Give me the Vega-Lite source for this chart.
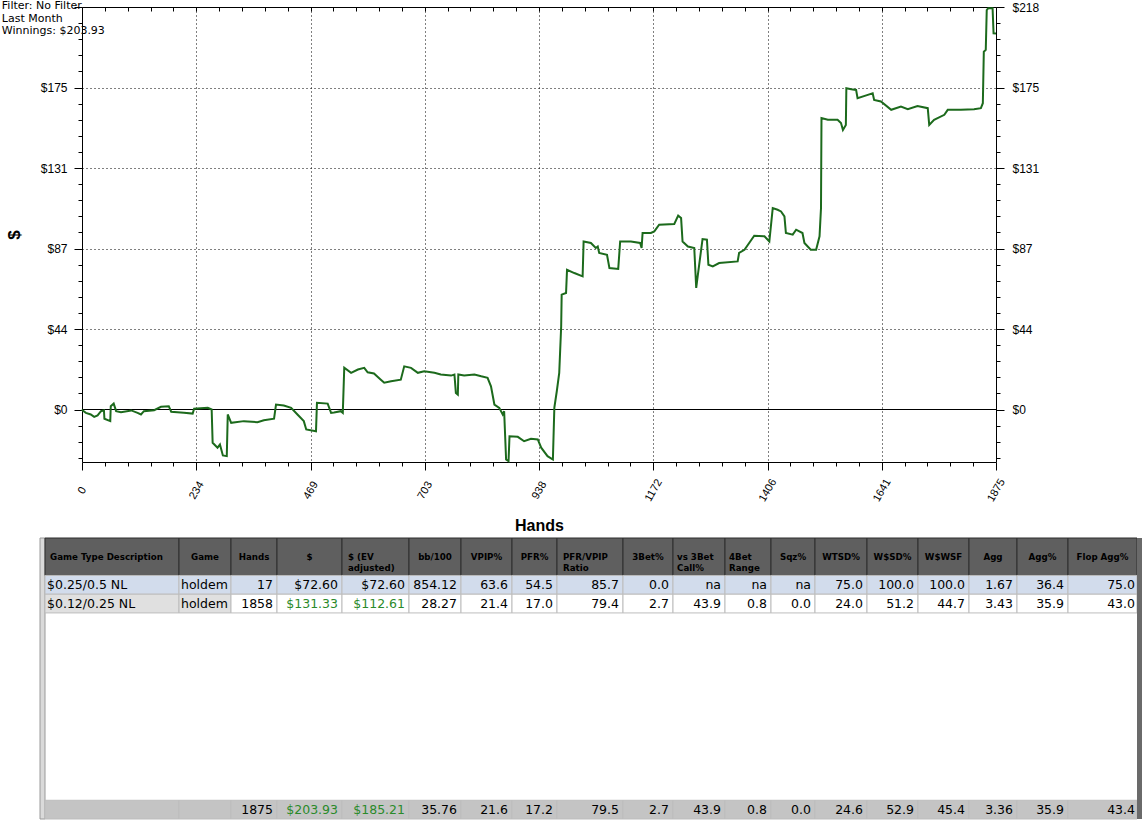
{
  "$schema": "https://vega.github.io/schema/vega-lite/v6.json",
  "background": "white",
  "padding": 0,
  "spacing": 3,
  "config": {
    "view": {"stroke": null},
    "scale": {"bandPaddingInner": 0, "bandPaddingOuter": 0},
    "axis": {"labelFont": "Liberation Sans", "labelFontSize": 12, "labelColor": "#000000", "tickColor": "#000000", "domainColor": "#000000", "titleColor": "#000000"},
    "style": {
      "hdrText": {"fill": "#ffffff", "font": "DejaVu Sans", "fontWeight": "bold", "fontSize": 8.7, "baseline": "middle", "lineBreak": "\n", "lineHeight": 11},
      "cellText": {"fill": "#000000", "font": "DejaVu Sans", "fontSize": 12.5, "baseline": "middle"}
    }
  },
  "datasets": {
    "winnings": [
      {"hand":0,"won":0},{"hand":1,"won":-0.5},{"hand":8,"won":-1.8},{"hand":18,"won":-2.7},{"hand":25,"won":-4.0},{"hand":32,"won":-3.2},{"hand":39,"won":-0.9},{"hand":45,"won":-0.4},{"hand":46,"won":-5.0},{"hand":58,"won":-6.3},{"hand":59,"won":1.8},{"hand":65,"won":3.2},{"hand":70,"won":-0.9},{"hand":80,"won":-1.5},{"hand":101,"won":-0.5},{"hand":114,"won":-1.8},{"hand":121,"won":-2.7},{"hand":127,"won":-0.9},{"hand":148,"won":-0.4},{"hand":162,"won":1.5},{"hand":178,"won":1.8},{"hand":183,"won":-1.2},{"hand":209,"won":-1.8},{"hand":227,"won":-2.2},{"hand":230,"won":0.4},{"hand":258,"won":0.9},{"hand":266,"won":0.0},{"hand":268,"won":-18.0},{"hand":278,"won":-20.7},{"hand":283,"won":-19.0},{"hand":289,"won":-24.9},{"hand":297,"won":-25.3},{"hand":299,"won":-2.7},{"hand":306,"won":-7.2},{"hand":332,"won":-6.3},{"hand":360,"won":-6.9},{"hand":373,"won":-5.8},{"hand":394,"won":-5.0},{"hand":398,"won":2.7},{"hand":414,"won":2.2},{"hand":429,"won":0.9},{"hand":442,"won":-2.7},{"hand":455,"won":-6.3},{"hand":460,"won":-10.8},{"hand":480,"won":-11.8},{"hand":482,"won":3.6},{"hand":504,"won":3.2},{"hand":511,"won":-1.8},{"hand":517,"won":-1.6},{"hand":531,"won":-0.9},{"hand":535,"won":-1.8},{"hand":538,"won":22.7},{"hand":552,"won":19.9},{"hand":566,"won":21.7},{"hand":579,"won":22.6},{"hand":586,"won":20.2},{"hand":599,"won":19.5},{"hand":613,"won":16.2},{"hand":620,"won":14.5},{"hand":634,"won":15.3},{"hand":654,"won":16.2},{"hand":661,"won":23.4},{"hand":675,"won":22.6},{"hand":689,"won":19.9},{"hand":702,"won":20.7},{"hand":723,"won":19.9},{"hand":736,"won":19.0},{"hand":757,"won":18.4},{"hand":764,"won":19.0},{"hand":767,"won":9.0},{"hand":771,"won":8.1},{"hand":772,"won":19.0},{"hand":784,"won":18.4},{"hand":805,"won":19.0},{"hand":819,"won":18.0},{"hand":832,"won":17.2},{"hand":839,"won":12.6},{"hand":846,"won":2.7},{"hand":856,"won":0.9},{"hand":863,"won":-2.7},{"hand":866,"won":-0.9},{"hand":870,"won":-27.1},{"hand":875,"won":-28.0},{"hand":877,"won":-14.5},{"hand":894,"won":-14.8},{"hand":907,"won":-17.2},{"hand":921,"won":-15.9},{"hand":935,"won":-16.2},{"hand":942,"won":-20.7},{"hand":955,"won":-25.3},{"hand":966,"won":-27.1},{"hand":969,"won":1.1},{"hand":974,"won":9.9},{"hand":979,"won":19.9},{"hand":983,"won":45.1},{"hand":984,"won":62.3},{"hand":993,"won":63.2},{"hand":995,"won":75.8},{"hand":1010,"won":74.0},{"hand":1027,"won":72.2},{"hand":1029,"won":91.1},{"hand":1044,"won":90.3},{"hand":1054,"won":87.6},{"hand":1058,"won":88.4},{"hand":1061,"won":84.9},{"hand":1077,"won":83.9},{"hand":1082,"won":76.7},{"hand":1100,"won":76.2},{"hand":1104,"won":91.1},{"hand":1126,"won":91.1},{"hand":1145,"won":90.3},{"hand":1148,"won":87.6},{"hand":1150,"won":95.7},{"hand":1167,"won":95.7},{"hand":1174,"won":96.6},{"hand":1184,"won":100.2},{"hand":1215,"won":100.6},{"hand":1223,"won":105.1},{"hand":1229,"won":103.8},{"hand":1232,"won":91.1},{"hand":1243,"won":88.4},{"hand":1256,"won":87.6},{"hand":1260,"won":65.9},{"hand":1263,"won":72.2},{"hand":1273,"won":92.4},{"hand":1282,"won":92.1},{"hand":1285,"won":78.5},{"hand":1294,"won":77.6},{"hand":1307,"won":79.4},{"hand":1345,"won":80.3},{"hand":1348,"won":84.9},{"hand":1359,"won":86.6},{"hand":1379,"won":94.2},{"hand":1400,"won":93.9},{"hand":1410,"won":91.1},{"hand":1417,"won":109.2},{"hand":1427,"won":108.3},{"hand":1434,"won":107.4},{"hand":1441,"won":104.7},{"hand":1444,"won":95.7},{"hand":1458,"won":94.8},{"hand":1465,"won":97.5},{"hand":1478,"won":95.7},{"hand":1482,"won":90.3},{"hand":1495,"won":86.6},{"hand":1506,"won":86.6},{"hand":1513,"won":93.9},{"hand":1516,"won":109.2},{"hand":1517,"won":158.0},{"hand":1530,"won":157.1},{"hand":1550,"won":157.1},{"hand":1557,"won":155.3},{"hand":1561,"won":151.6},{"hand":1567,"won":154.3},{"hand":1568,"won":174.2},{"hand":1578,"won":173.7},{"hand":1588,"won":173.3},{"hand":1591,"won":168.8},{"hand":1612,"won":170.6},{"hand":1622,"won":171.5},{"hand":1625,"won":167.9},{"hand":1639,"won":167.0},{"hand":1660,"won":162.5},{"hand":1680,"won":164.3},{"hand":1694,"won":162.8},{"hand":1714,"won":164.6},{"hand":1735,"won":163.4},{"hand":1738,"won":154.3},{"hand":1748,"won":157.1},{"hand":1769,"won":159.8},{"hand":1776,"won":162.5},{"hand":1803,"won":162.5},{"hand":1830,"won":162.8},{"hand":1844,"won":163.4},{"hand":1848,"won":166.1},{"hand":1850,"won":194.0},{"hand":1854,"won":195.0},{"hand":1856,"won":216.6},{"hand":1859,"won":217.6},{"hand":1868,"won":217.6},{"hand":1870,"won":204.0},{"hand":1875,"won":203.9}
    ],
    "table": [
      {"row":"hB","desc":"Game Type Description","game":"Game","hands":"Hands","usd":"$","usdEv":"$ (EV\nadjusted)","bb100":"bb/100","vpip":"VPIP%","pfr":"PFR%","ratio":"PFR/VPIP\nRatio","threeBet":"3Bet%","vs3Bet":"vs 3Bet\nCall%","fourBet":"4Bet\nRange","sqz":"Sqz%","wtsd":"WTSD%","wsd":"W$SD%","wwsf":"W$WSF","agg":"Agg","aggPct":"Agg%","flopAgg":"Flop Agg%"},
      {"row":"r1","desc":"$0.25/0.5 NL","game":"holdem","hands":"17","usd":"$72.60","usdEv":"$72.60","bb100":"854.12","vpip":"63.6","pfr":"54.5","ratio":"85.7","threeBet":"0.0","vs3Bet":"na","fourBet":"na","sqz":"na","wtsd":"75.0","wsd":"100.0","wwsf":"100.0","agg":"1.67","aggPct":"36.4","flopAgg":"75.0"},
      {"row":"r2","desc":"$0.12/0.25 NL","game":"holdem","hands":"1858","usd":"$131.33","usdEv":"$112.61","bb100":"28.27","vpip":"21.4","pfr":"17.0","ratio":"79.4","threeBet":"2.7","vs3Bet":"43.9","fourBet":"0.8","sqz":"0.0","wtsd":"24.0","wsd":"51.2","wwsf":"44.7","agg":"3.43","aggPct":"35.9","flopAgg":"43.0"},
      {"row":"tot","desc":"","game":"","hands":"1875","usd":"$203.93","usdEv":"$185.21","bb100":"35.76","vpip":"21.6","pfr":"17.2","ratio":"79.5","threeBet":"2.7","vs3Bet":"43.9","fourBet":"0.8","sqz":"0.0","wtsd":"24.6","wsd":"52.9","wwsf":"45.4","agg":"3.36","aggPct":"35.9","flopAgg":"43.4"}
    ]
  },
  "vconcat": [
    {
      "spacing": 0,
      "hconcat": [
        {"width": 1, "height": 1, "data": {"values": [{}]}, "mark": {"type": "rect", "fill": "#ffffff"}, "encoding": {}},
        {
          "width": 914,
          "height": 455,
          "title": {"text": ["Filter: No Filter", "Last Month", "Winnings: $203.93"], "anchor": "start", "frame": "bounds", "offset": -35, "dx": -3.5, "font": "DejaVu Sans", "fontSize": 11, "fontWeight": "normal", "lineHeight": 12.5, "color": "#000000"},
          "layer": [
            {
              "data": {"values": [{}]},
              "mark": {"type": "rule", "color": "#000000", "strokeWidth": 1},
              "encoding": {
                "x": {"datum": 0, "type": "quantitative", "axis": {"orient": "top", "values": [0,46.875,93.75,140.625,187.5,234.375,281.25,328.125,375,421.875,468.75,515.625,562.5,609.375,656.25,703.125,750,796.875,843.75,890.625,937.5,984.375,1031.25,1078.125,1125,1171.875,1218.75,1265.625,1312.5,1359.375,1406.25,1453.125,1500,1546.875,1593.75,1640.625,1687.5,1734.375,1781.25,1828.125,1875], "labels": false, "tickSize": -4, "grid": false, "title": null}},
                "x2": {"datum": 1875},
                "y": {"datum": 0, "type": "quantitative", "axis": {"orient": "right", "values": [-26.19,-17.46,-8.73,0,8.73,17.46,26.19,34.92,43.65,52.38,61.11,69.84,78.57,87.3,96.03,104.76,113.49,122.22,130.95,139.68,148.41,157.14,165.87,174.6,183.33,192.06,200.79,209.52,218.25], "labelExpr": "abs(round(datum.value/8.73)) % 5 == 0 ? '$' + format(datum.value, '.0f') : ''", "tickSize": {"condition": {"test": "abs(round(datum.value/8.73)) % 5 == 0", "value": 8}, "value": 4}, "labelPadding": 8, "labelFlush": false, "labelOverlap": false, "grid": false, "title": null}}
              }
            },
            {
              "data": {"name": "winnings"},
              "mark": {"type": "line", "color": "#1c6a1c", "strokeWidth": 2},
              "encoding": {
                "x": {"field": "hand", "type": "quantitative", "scale": {"domain": [0, 1875], "nice": false, "zero": false},
                  "axis": {"orient": "bottom", "values": [0,46.875,93.75,140.625,187.5,234.375,281.25,328.125,375,421.875,468.75,515.625,562.5,609.375,656.25,703.125,750,796.875,843.75,890.625,937.5,984.375,1031.25,1078.125,1125,1171.875,1218.75,1265.625,1312.5,1359.375,1406.25,1453.125,1500,1546.875,1593.75,1640.625,1687.5,1734.375,1781.25,1828.125,1875], "labelExpr": "round(datum.value/46.875) % 5 == 0 ? format(datum.value, '.0f') : ''", "labelAngle": -60, "labelAlign": "center", "labelBaseline": "middle", "labelFontSize": 11, "labelPadding": 20, "labelFlush": false, "labelOverlap": false, "tickSize": {"condition": {"test": "round(datum.value/46.875) % 5 == 0", "value": 8}, "value": 4}, "grid": true, "gridColor": "#000000", "gridDash": [1, 3], "gridOpacity": {"condition": {"test": "round(datum.value/46.875) % 5 == 0 && datum.value > 1 && datum.value < 1874", "value": 1}, "value": 0}, "title": "Hands", "titleFont": "Liberation Sans", "titleFontSize": 16, "titleFontWeight": "bold", "titlePadding": 14}},
                "y": {"field": "won", "type": "quantitative", "scale": {"domain": [-28.46, 218.25], "nice": false, "zero": false},
                  "axis": {"orient": "left", "values": [-26.19,-17.46,-8.73,0,8.73,17.46,26.19,34.92,43.65,52.38,61.11,69.84,78.57,87.3,96.03,104.76,113.49,122.22,130.95,139.68,148.41,157.14,165.87,174.6,183.33,192.06,200.79,209.52,218.25], "labelExpr": "abs(round(datum.value/8.73)) % 5 == 0 && datum.value < 210 ? '$' + format(datum.value, '.0f') : ''", "tickSize": {"condition": {"test": "abs(round(datum.value/8.73)) % 5 == 0", "value": 8}, "value": 4}, "labelPadding": 7, "labelFlush": false, "labelOverlap": false, "grid": true, "gridColor": "#000000", "gridDash": [1, 3], "gridOpacity": {"condition": {"test": "abs(round(datum.value/8.73)) % 5 == 0 && datum.value > 1 && datum.value < 210", "value": 1}, "value": 0}, "title": "$", "titleFont": "Liberation Sans", "titleFontSize": 17, "titleFontWeight": "bold", "titlePadding": 17}}
              }
            }
          ],
          "resolve": {"axis": {"x": "independent", "y": "independent"}}
        }
      ]
    },
    {
      "spacing": 0,
      "bounds": "flush",
      "hconcat": [
        {"width": 40, "height": 281, "data": {"values": [{}]}, "mark": {"type": "rect", "fill": "#ffffff"}, "encoding": {}},
        {"width": 5, "height": 281, "data": {"values": [{}]}, "mark": {"type": "rect", "fill": "#dadada", "stroke": "#9a9a9a", "strokeWidth": 1}, "encoding": {}},
        {"width": 134, "height": 281, "data": {"name": "table"},
          "encoding": {"y": {"field": "row", "type": "nominal", "scale": {"domain": ["hA","hB","r1","r2","e1","e2","e3","e4","e5","e6","e7","e8","e9","e10","tot"]}, "axis": null}},
          "layer": [
            {"transform": [{"filter": "datum.row == 'hB'"}], "mark": {"type": "rect", "fill": "#5f5f5f", "stroke": "#2e2e2e", "strokeWidth": 1}, "encoding": {"y": {"datum": "hA", "type": "nominal", "bandPosition": 0, "axis": null}, "y2": {"datum": "r1", "bandPosition": 0}}},
            {"transform": [{"filter": "datum.row != 'hB'"}], "mark": {"type": "rect", "stroke": "#bdbdbd", "strokeWidth": 1}, "encoding": {"fill": {"condition": [{"test": "datum.row == 'r1'", "value": "#d2dcec"}, {"test": "datum.row == 'tot'", "value": "#c4c4c4"}], "value": "#e0e0e0"}}},
            {"transform": [{"filter": "datum.row == 'hB'"}], "mark": {"type": "text", "style": "hdrText", "align": "left", "dx": 5}, "encoding": {"y": {"field": "row", "type": "nominal", "bandPosition": 0, "axis": null}, "x": {"datum": 0, "type": "quantitative", "scale": {"domain": [0, 1]}, "axis": null}, "text": {"field": "desc"}}},
            {"transform": [{"filter": "datum.row != 'hB'"}], "mark": {"type": "text", "style": "cellText", "align": "left", "dx": 2}, "encoding": {"x": {"datum": 0, "type": "quantitative", "scale": {"domain": [0, 1]}, "axis": null}, "text": {"field": "desc"}}}
          ]},
        {"width": 52, "height": 281, "data": {"name": "table"},
          "encoding": {"y": {"field": "row", "type": "nominal", "scale": {"domain": ["hA","hB","r1","r2","e1","e2","e3","e4","e5","e6","e7","e8","e9","e10","tot"]}, "axis": null}},
          "layer": [
            {"transform": [{"filter": "datum.row == 'hB'"}], "mark": {"type": "rect", "fill": "#5f5f5f", "stroke": "#2e2e2e", "strokeWidth": 1}, "encoding": {"y": {"datum": "hA", "type": "nominal", "bandPosition": 0, "axis": null}, "y2": {"datum": "r1", "bandPosition": 0}}},
            {"transform": [{"filter": "datum.row != 'hB'"}], "mark": {"type": "rect", "stroke": "#bdbdbd", "strokeWidth": 1}, "encoding": {"fill": {"condition": [{"test": "datum.row == 'r1'", "value": "#d2dcec"}, {"test": "datum.row == 'tot'", "value": "#c4c4c4"}], "value": "#e0e0e0"}}},
            {"transform": [{"filter": "datum.row == 'hB'"}], "mark": {"type": "text", "style": "hdrText", "align": "center"}, "encoding": {"y": {"field": "row", "type": "nominal", "bandPosition": 0, "axis": null}, "x": {"datum": 0.5, "type": "quantitative", "scale": {"domain": [0, 1]}, "axis": null}, "text": {"field": "game"}}},
            {"transform": [{"filter": "datum.row != 'hB'"}], "mark": {"type": "text", "style": "cellText", "align": "left", "dx": 2}, "encoding": {"x": {"datum": 0, "type": "quantitative", "scale": {"domain": [0, 1]}, "axis": null}, "text": {"field": "game"}}}
          ]},
        {"width": 46, "height": 281, "data": {"name": "table"},
          "encoding": {"y": {"field": "row", "type": "nominal", "scale": {"domain": ["hA","hB","r1","r2","e1","e2","e3","e4","e5","e6","e7","e8","e9","e10","tot"]}, "axis": null}},
          "layer": [
            {"transform": [{"filter": "datum.row == 'hB'"}], "mark": {"type": "rect", "fill": "#5f5f5f", "stroke": "#2e2e2e", "strokeWidth": 1}, "encoding": {"y": {"datum": "hA", "type": "nominal", "bandPosition": 0, "axis": null}, "y2": {"datum": "r1", "bandPosition": 0}}},
            {"transform": [{"filter": "datum.row != 'hB'"}], "mark": {"type": "rect", "stroke": "#bdbdbd", "strokeWidth": 1}, "encoding": {"fill": {"condition": [{"test": "datum.row == 'r1'", "value": "#d2dcec"}, {"test": "datum.row == 'tot'", "value": "#c4c4c4"}], "value": "#ffffff"}}},
            {"transform": [{"filter": "datum.row == 'hB'"}], "mark": {"type": "text", "style": "hdrText", "align": "center"}, "encoding": {"y": {"field": "row", "type": "nominal", "bandPosition": 0, "axis": null}, "x": {"datum": 0.5, "type": "quantitative", "scale": {"domain": [0, 1]}, "axis": null}, "text": {"field": "hands"}}},
            {"transform": [{"filter": "datum.row != 'hB'"}], "mark": {"type": "text", "style": "cellText", "align": "right", "dx": -4}, "encoding": {"x": {"datum": 1, "type": "quantitative", "scale": {"domain": [0, 1]}, "axis": null}, "text": {"field": "hands"}}}
          ]},
        {"width": 65, "height": 281, "data": {"name": "table"},
          "encoding": {"y": {"field": "row", "type": "nominal", "scale": {"domain": ["hA","hB","r1","r2","e1","e2","e3","e4","e5","e6","e7","e8","e9","e10","tot"]}, "axis": null}},
          "layer": [
            {"transform": [{"filter": "datum.row == 'hB'"}], "mark": {"type": "rect", "fill": "#5f5f5f", "stroke": "#2e2e2e", "strokeWidth": 1}, "encoding": {"y": {"datum": "hA", "type": "nominal", "bandPosition": 0, "axis": null}, "y2": {"datum": "r1", "bandPosition": 0}}},
            {"transform": [{"filter": "datum.row != 'hB'"}], "mark": {"type": "rect", "stroke": "#bdbdbd", "strokeWidth": 1}, "encoding": {"fill": {"condition": [{"test": "datum.row == 'r1'", "value": "#d2dcec"}, {"test": "datum.row == 'tot'", "value": "#c4c4c4"}], "value": "#ffffff"}}},
            {"transform": [{"filter": "datum.row == 'hB'"}], "mark": {"type": "text", "style": "hdrText", "align": "center"}, "encoding": {"y": {"field": "row", "type": "nominal", "bandPosition": 0, "axis": null}, "x": {"datum": 0.5, "type": "quantitative", "scale": {"domain": [0, 1]}, "axis": null}, "text": {"field": "usd"}}},
            {"transform": [{"filter": "datum.row != 'hB'"}], "mark": {"type": "text", "style": "cellText", "align": "right", "dx": -4}, "encoding": {"x": {"datum": 1, "type": "quantitative", "scale": {"domain": [0, 1]}, "axis": null}, "text": {"field": "usd"}, "color": {"condition": {"test": "datum.row != 'r1'", "value": "#2a8a2a"}, "value": "#000000"}}}
          ]},
        {"width": 67, "height": 281, "data": {"name": "table"},
          "encoding": {"y": {"field": "row", "type": "nominal", "scale": {"domain": ["hA","hB","r1","r2","e1","e2","e3","e4","e5","e6","e7","e8","e9","e10","tot"]}, "axis": null}},
          "layer": [
            {"transform": [{"filter": "datum.row == 'hB'"}], "mark": {"type": "rect", "fill": "#5f5f5f", "stroke": "#2e2e2e", "strokeWidth": 1}, "encoding": {"y": {"datum": "hA", "type": "nominal", "bandPosition": 0, "axis": null}, "y2": {"datum": "r1", "bandPosition": 0}}},
            {"transform": [{"filter": "datum.row != 'hB'"}], "mark": {"type": "rect", "stroke": "#bdbdbd", "strokeWidth": 1}, "encoding": {"fill": {"condition": [{"test": "datum.row == 'r1'", "value": "#d2dcec"}, {"test": "datum.row == 'tot'", "value": "#c4c4c4"}], "value": "#ffffff"}}},
            {"transform": [{"filter": "datum.row == 'hB'"}], "mark": {"type": "text", "style": "hdrText", "align": "left", "dx": 6}, "encoding": {"y": {"field": "row", "type": "nominal", "bandPosition": 0, "axis": null}, "x": {"datum": 0, "type": "quantitative", "scale": {"domain": [0, 1]}, "axis": null}, "text": {"field": "usdEv"}}},
            {"transform": [{"filter": "datum.row != 'hB'"}], "mark": {"type": "text", "style": "cellText", "align": "right", "dx": -4}, "encoding": {"x": {"datum": 1, "type": "quantitative", "scale": {"domain": [0, 1]}, "axis": null}, "text": {"field": "usdEv"}, "color": {"condition": {"test": "datum.row != 'r1'", "value": "#2a8a2a"}, "value": "#000000"}}}
          ]},
        {"width": 52, "height": 281, "data": {"name": "table"},
          "encoding": {"y": {"field": "row", "type": "nominal", "scale": {"domain": ["hA","hB","r1","r2","e1","e2","e3","e4","e5","e6","e7","e8","e9","e10","tot"]}, "axis": null}},
          "layer": [
            {"transform": [{"filter": "datum.row == 'hB'"}], "mark": {"type": "rect", "fill": "#5f5f5f", "stroke": "#2e2e2e", "strokeWidth": 1}, "encoding": {"y": {"datum": "hA", "type": "nominal", "bandPosition": 0, "axis": null}, "y2": {"datum": "r1", "bandPosition": 0}}},
            {"transform": [{"filter": "datum.row != 'hB'"}], "mark": {"type": "rect", "stroke": "#bdbdbd", "strokeWidth": 1}, "encoding": {"fill": {"condition": [{"test": "datum.row == 'r1'", "value": "#d2dcec"}, {"test": "datum.row == 'tot'", "value": "#c4c4c4"}], "value": "#ffffff"}}},
            {"transform": [{"filter": "datum.row == 'hB'"}], "mark": {"type": "text", "style": "hdrText", "align": "center"}, "encoding": {"y": {"field": "row", "type": "nominal", "bandPosition": 0, "axis": null}, "x": {"datum": 0.5, "type": "quantitative", "scale": {"domain": [0, 1]}, "axis": null}, "text": {"field": "bb100"}}},
            {"transform": [{"filter": "datum.row != 'hB'"}], "mark": {"type": "text", "style": "cellText", "align": "right", "dx": -4}, "encoding": {"x": {"datum": 1, "type": "quantitative", "scale": {"domain": [0, 1]}, "axis": null}, "text": {"field": "bb100"}}}
          ]},
        {"width": 51, "height": 281, "data": {"name": "table"},
          "encoding": {"y": {"field": "row", "type": "nominal", "scale": {"domain": ["hA","hB","r1","r2","e1","e2","e3","e4","e5","e6","e7","e8","e9","e10","tot"]}, "axis": null}},
          "layer": [
            {"transform": [{"filter": "datum.row == 'hB'"}], "mark": {"type": "rect", "fill": "#5f5f5f", "stroke": "#2e2e2e", "strokeWidth": 1}, "encoding": {"y": {"datum": "hA", "type": "nominal", "bandPosition": 0, "axis": null}, "y2": {"datum": "r1", "bandPosition": 0}}},
            {"transform": [{"filter": "datum.row != 'hB'"}], "mark": {"type": "rect", "stroke": "#bdbdbd", "strokeWidth": 1}, "encoding": {"fill": {"condition": [{"test": "datum.row == 'r1'", "value": "#d2dcec"}, {"test": "datum.row == 'tot'", "value": "#c4c4c4"}], "value": "#ffffff"}}},
            {"transform": [{"filter": "datum.row == 'hB'"}], "mark": {"type": "text", "style": "hdrText", "align": "center"}, "encoding": {"y": {"field": "row", "type": "nominal", "bandPosition": 0, "axis": null}, "x": {"datum": 0.5, "type": "quantitative", "scale": {"domain": [0, 1]}, "axis": null}, "text": {"field": "vpip"}}},
            {"transform": [{"filter": "datum.row != 'hB'"}], "mark": {"type": "text", "style": "cellText", "align": "right", "dx": -4}, "encoding": {"x": {"datum": 1, "type": "quantitative", "scale": {"domain": [0, 1]}, "axis": null}, "text": {"field": "vpip"}}}
          ]},
        {"width": 45, "height": 281, "data": {"name": "table"},
          "encoding": {"y": {"field": "row", "type": "nominal", "scale": {"domain": ["hA","hB","r1","r2","e1","e2","e3","e4","e5","e6","e7","e8","e9","e10","tot"]}, "axis": null}},
          "layer": [
            {"transform": [{"filter": "datum.row == 'hB'"}], "mark": {"type": "rect", "fill": "#5f5f5f", "stroke": "#2e2e2e", "strokeWidth": 1}, "encoding": {"y": {"datum": "hA", "type": "nominal", "bandPosition": 0, "axis": null}, "y2": {"datum": "r1", "bandPosition": 0}}},
            {"transform": [{"filter": "datum.row != 'hB'"}], "mark": {"type": "rect", "stroke": "#bdbdbd", "strokeWidth": 1}, "encoding": {"fill": {"condition": [{"test": "datum.row == 'r1'", "value": "#d2dcec"}, {"test": "datum.row == 'tot'", "value": "#c4c4c4"}], "value": "#ffffff"}}},
            {"transform": [{"filter": "datum.row == 'hB'"}], "mark": {"type": "text", "style": "hdrText", "align": "center"}, "encoding": {"y": {"field": "row", "type": "nominal", "bandPosition": 0, "axis": null}, "x": {"datum": 0.5, "type": "quantitative", "scale": {"domain": [0, 1]}, "axis": null}, "text": {"field": "pfr"}}},
            {"transform": [{"filter": "datum.row != 'hB'"}], "mark": {"type": "text", "style": "cellText", "align": "right", "dx": -4}, "encoding": {"x": {"datum": 1, "type": "quantitative", "scale": {"domain": [0, 1]}, "axis": null}, "text": {"field": "pfr"}}}
          ]},
        {"width": 66, "height": 281, "data": {"name": "table"},
          "encoding": {"y": {"field": "row", "type": "nominal", "scale": {"domain": ["hA","hB","r1","r2","e1","e2","e3","e4","e5","e6","e7","e8","e9","e10","tot"]}, "axis": null}},
          "layer": [
            {"transform": [{"filter": "datum.row == 'hB'"}], "mark": {"type": "rect", "fill": "#5f5f5f", "stroke": "#2e2e2e", "strokeWidth": 1}, "encoding": {"y": {"datum": "hA", "type": "nominal", "bandPosition": 0, "axis": null}, "y2": {"datum": "r1", "bandPosition": 0}}},
            {"transform": [{"filter": "datum.row != 'hB'"}], "mark": {"type": "rect", "stroke": "#bdbdbd", "strokeWidth": 1}, "encoding": {"fill": {"condition": [{"test": "datum.row == 'r1'", "value": "#d2dcec"}, {"test": "datum.row == 'tot'", "value": "#c4c4c4"}], "value": "#ffffff"}}},
            {"transform": [{"filter": "datum.row == 'hB'"}], "mark": {"type": "text", "style": "hdrText", "align": "left", "dx": 6}, "encoding": {"y": {"field": "row", "type": "nominal", "bandPosition": 0, "axis": null}, "x": {"datum": 0, "type": "quantitative", "scale": {"domain": [0, 1]}, "axis": null}, "text": {"field": "ratio"}}},
            {"transform": [{"filter": "datum.row != 'hB'"}], "mark": {"type": "text", "style": "cellText", "align": "right", "dx": -4}, "encoding": {"x": {"datum": 1, "type": "quantitative", "scale": {"domain": [0, 1]}, "axis": null}, "text": {"field": "ratio"}}}
          ]},
        {"width": 50, "height": 281, "data": {"name": "table"},
          "encoding": {"y": {"field": "row", "type": "nominal", "scale": {"domain": ["hA","hB","r1","r2","e1","e2","e3","e4","e5","e6","e7","e8","e9","e10","tot"]}, "axis": null}},
          "layer": [
            {"transform": [{"filter": "datum.row == 'hB'"}], "mark": {"type": "rect", "fill": "#5f5f5f", "stroke": "#2e2e2e", "strokeWidth": 1}, "encoding": {"y": {"datum": "hA", "type": "nominal", "bandPosition": 0, "axis": null}, "y2": {"datum": "r1", "bandPosition": 0}}},
            {"transform": [{"filter": "datum.row != 'hB'"}], "mark": {"type": "rect", "stroke": "#bdbdbd", "strokeWidth": 1}, "encoding": {"fill": {"condition": [{"test": "datum.row == 'r1'", "value": "#d2dcec"}, {"test": "datum.row == 'tot'", "value": "#c4c4c4"}], "value": "#ffffff"}}},
            {"transform": [{"filter": "datum.row == 'hB'"}], "mark": {"type": "text", "style": "hdrText", "align": "center"}, "encoding": {"y": {"field": "row", "type": "nominal", "bandPosition": 0, "axis": null}, "x": {"datum": 0.5, "type": "quantitative", "scale": {"domain": [0, 1]}, "axis": null}, "text": {"field": "threeBet"}}},
            {"transform": [{"filter": "datum.row != 'hB'"}], "mark": {"type": "text", "style": "cellText", "align": "right", "dx": -4}, "encoding": {"x": {"datum": 1, "type": "quantitative", "scale": {"domain": [0, 1]}, "axis": null}, "text": {"field": "threeBet"}}}
          ]},
        {"width": 52, "height": 281, "data": {"name": "table"},
          "encoding": {"y": {"field": "row", "type": "nominal", "scale": {"domain": ["hA","hB","r1","r2","e1","e2","e3","e4","e5","e6","e7","e8","e9","e10","tot"]}, "axis": null}},
          "layer": [
            {"transform": [{"filter": "datum.row == 'hB'"}], "mark": {"type": "rect", "fill": "#5f5f5f", "stroke": "#2e2e2e", "strokeWidth": 1}, "encoding": {"y": {"datum": "hA", "type": "nominal", "bandPosition": 0, "axis": null}, "y2": {"datum": "r1", "bandPosition": 0}}},
            {"transform": [{"filter": "datum.row != 'hB'"}], "mark": {"type": "rect", "stroke": "#bdbdbd", "strokeWidth": 1}, "encoding": {"fill": {"condition": [{"test": "datum.row == 'r1'", "value": "#d2dcec"}, {"test": "datum.row == 'tot'", "value": "#c4c4c4"}], "value": "#ffffff"}}},
            {"transform": [{"filter": "datum.row == 'hB'"}], "mark": {"type": "text", "style": "hdrText", "align": "left", "dx": 4}, "encoding": {"y": {"field": "row", "type": "nominal", "bandPosition": 0, "axis": null}, "x": {"datum": 0, "type": "quantitative", "scale": {"domain": [0, 1]}, "axis": null}, "text": {"field": "vs3Bet"}}},
            {"transform": [{"filter": "datum.row != 'hB'"}], "mark": {"type": "text", "style": "cellText", "align": "right", "dx": -4}, "encoding": {"x": {"datum": 1, "type": "quantitative", "scale": {"domain": [0, 1]}, "axis": null}, "text": {"field": "vs3Bet"}}}
          ]},
        {"width": 46, "height": 281, "data": {"name": "table"},
          "encoding": {"y": {"field": "row", "type": "nominal", "scale": {"domain": ["hA","hB","r1","r2","e1","e2","e3","e4","e5","e6","e7","e8","e9","e10","tot"]}, "axis": null}},
          "layer": [
            {"transform": [{"filter": "datum.row == 'hB'"}], "mark": {"type": "rect", "fill": "#5f5f5f", "stroke": "#2e2e2e", "strokeWidth": 1}, "encoding": {"y": {"datum": "hA", "type": "nominal", "bandPosition": 0, "axis": null}, "y2": {"datum": "r1", "bandPosition": 0}}},
            {"transform": [{"filter": "datum.row != 'hB'"}], "mark": {"type": "rect", "stroke": "#bdbdbd", "strokeWidth": 1}, "encoding": {"fill": {"condition": [{"test": "datum.row == 'r1'", "value": "#d2dcec"}, {"test": "datum.row == 'tot'", "value": "#c4c4c4"}], "value": "#ffffff"}}},
            {"transform": [{"filter": "datum.row == 'hB'"}], "mark": {"type": "text", "style": "hdrText", "align": "left", "dx": 4}, "encoding": {"y": {"field": "row", "type": "nominal", "bandPosition": 0, "axis": null}, "x": {"datum": 0, "type": "quantitative", "scale": {"domain": [0, 1]}, "axis": null}, "text": {"field": "fourBet"}}},
            {"transform": [{"filter": "datum.row != 'hB'"}], "mark": {"type": "text", "style": "cellText", "align": "right", "dx": -4}, "encoding": {"x": {"datum": 1, "type": "quantitative", "scale": {"domain": [0, 1]}, "axis": null}, "text": {"field": "fourBet"}}}
          ]},
        {"width": 44, "height": 281, "data": {"name": "table"},
          "encoding": {"y": {"field": "row", "type": "nominal", "scale": {"domain": ["hA","hB","r1","r2","e1","e2","e3","e4","e5","e6","e7","e8","e9","e10","tot"]}, "axis": null}},
          "layer": [
            {"transform": [{"filter": "datum.row == 'hB'"}], "mark": {"type": "rect", "fill": "#5f5f5f", "stroke": "#2e2e2e", "strokeWidth": 1}, "encoding": {"y": {"datum": "hA", "type": "nominal", "bandPosition": 0, "axis": null}, "y2": {"datum": "r1", "bandPosition": 0}}},
            {"transform": [{"filter": "datum.row != 'hB'"}], "mark": {"type": "rect", "stroke": "#bdbdbd", "strokeWidth": 1}, "encoding": {"fill": {"condition": [{"test": "datum.row == 'r1'", "value": "#d2dcec"}, {"test": "datum.row == 'tot'", "value": "#c4c4c4"}], "value": "#ffffff"}}},
            {"transform": [{"filter": "datum.row == 'hB'"}], "mark": {"type": "text", "style": "hdrText", "align": "center"}, "encoding": {"y": {"field": "row", "type": "nominal", "bandPosition": 0, "axis": null}, "x": {"datum": 0.5, "type": "quantitative", "scale": {"domain": [0, 1]}, "axis": null}, "text": {"field": "sqz"}}},
            {"transform": [{"filter": "datum.row != 'hB'"}], "mark": {"type": "text", "style": "cellText", "align": "right", "dx": -4}, "encoding": {"x": {"datum": 1, "type": "quantitative", "scale": {"domain": [0, 1]}, "axis": null}, "text": {"field": "sqz"}}}
          ]},
        {"width": 52, "height": 281, "data": {"name": "table"},
          "encoding": {"y": {"field": "row", "type": "nominal", "scale": {"domain": ["hA","hB","r1","r2","e1","e2","e3","e4","e5","e6","e7","e8","e9","e10","tot"]}, "axis": null}},
          "layer": [
            {"transform": [{"filter": "datum.row == 'hB'"}], "mark": {"type": "rect", "fill": "#5f5f5f", "stroke": "#2e2e2e", "strokeWidth": 1}, "encoding": {"y": {"datum": "hA", "type": "nominal", "bandPosition": 0, "axis": null}, "y2": {"datum": "r1", "bandPosition": 0}}},
            {"transform": [{"filter": "datum.row != 'hB'"}], "mark": {"type": "rect", "stroke": "#bdbdbd", "strokeWidth": 1}, "encoding": {"fill": {"condition": [{"test": "datum.row == 'r1'", "value": "#d2dcec"}, {"test": "datum.row == 'tot'", "value": "#c4c4c4"}], "value": "#ffffff"}}},
            {"transform": [{"filter": "datum.row == 'hB'"}], "mark": {"type": "text", "style": "hdrText", "align": "center"}, "encoding": {"y": {"field": "row", "type": "nominal", "bandPosition": 0, "axis": null}, "x": {"datum": 0.5, "type": "quantitative", "scale": {"domain": [0, 1]}, "axis": null}, "text": {"field": "wtsd"}}},
            {"transform": [{"filter": "datum.row != 'hB'"}], "mark": {"type": "text", "style": "cellText", "align": "right", "dx": -4}, "encoding": {"x": {"datum": 1, "type": "quantitative", "scale": {"domain": [0, 1]}, "axis": null}, "text": {"field": "wtsd"}}}
          ]},
        {"width": 51, "height": 281, "data": {"name": "table"},
          "encoding": {"y": {"field": "row", "type": "nominal", "scale": {"domain": ["hA","hB","r1","r2","e1","e2","e3","e4","e5","e6","e7","e8","e9","e10","tot"]}, "axis": null}},
          "layer": [
            {"transform": [{"filter": "datum.row == 'hB'"}], "mark": {"type": "rect", "fill": "#5f5f5f", "stroke": "#2e2e2e", "strokeWidth": 1}, "encoding": {"y": {"datum": "hA", "type": "nominal", "bandPosition": 0, "axis": null}, "y2": {"datum": "r1", "bandPosition": 0}}},
            {"transform": [{"filter": "datum.row != 'hB'"}], "mark": {"type": "rect", "stroke": "#bdbdbd", "strokeWidth": 1}, "encoding": {"fill": {"condition": [{"test": "datum.row == 'r1'", "value": "#d2dcec"}, {"test": "datum.row == 'tot'", "value": "#c4c4c4"}], "value": "#ffffff"}}},
            {"transform": [{"filter": "datum.row == 'hB'"}], "mark": {"type": "text", "style": "hdrText", "align": "center"}, "encoding": {"y": {"field": "row", "type": "nominal", "bandPosition": 0, "axis": null}, "x": {"datum": 0.5, "type": "quantitative", "scale": {"domain": [0, 1]}, "axis": null}, "text": {"field": "wsd"}}},
            {"transform": [{"filter": "datum.row != 'hB'"}], "mark": {"type": "text", "style": "cellText", "align": "right", "dx": -4}, "encoding": {"x": {"datum": 1, "type": "quantitative", "scale": {"domain": [0, 1]}, "axis": null}, "text": {"field": "wsd"}}}
          ]},
        {"width": 51, "height": 281, "data": {"name": "table"},
          "encoding": {"y": {"field": "row", "type": "nominal", "scale": {"domain": ["hA","hB","r1","r2","e1","e2","e3","e4","e5","e6","e7","e8","e9","e10","tot"]}, "axis": null}},
          "layer": [
            {"transform": [{"filter": "datum.row == 'hB'"}], "mark": {"type": "rect", "fill": "#5f5f5f", "stroke": "#2e2e2e", "strokeWidth": 1}, "encoding": {"y": {"datum": "hA", "type": "nominal", "bandPosition": 0, "axis": null}, "y2": {"datum": "r1", "bandPosition": 0}}},
            {"transform": [{"filter": "datum.row != 'hB'"}], "mark": {"type": "rect", "stroke": "#bdbdbd", "strokeWidth": 1}, "encoding": {"fill": {"condition": [{"test": "datum.row == 'r1'", "value": "#d2dcec"}, {"test": "datum.row == 'tot'", "value": "#c4c4c4"}], "value": "#ffffff"}}},
            {"transform": [{"filter": "datum.row == 'hB'"}], "mark": {"type": "text", "style": "hdrText", "align": "center"}, "encoding": {"y": {"field": "row", "type": "nominal", "bandPosition": 0, "axis": null}, "x": {"datum": 0.5, "type": "quantitative", "scale": {"domain": [0, 1]}, "axis": null}, "text": {"field": "wwsf"}}},
            {"transform": [{"filter": "datum.row != 'hB'"}], "mark": {"type": "text", "style": "cellText", "align": "right", "dx": -4}, "encoding": {"x": {"datum": 1, "type": "quantitative", "scale": {"domain": [0, 1]}, "axis": null}, "text": {"field": "wwsf"}}}
          ]},
        {"width": 48, "height": 281, "data": {"name": "table"},
          "encoding": {"y": {"field": "row", "type": "nominal", "scale": {"domain": ["hA","hB","r1","r2","e1","e2","e3","e4","e5","e6","e7","e8","e9","e10","tot"]}, "axis": null}},
          "layer": [
            {"transform": [{"filter": "datum.row == 'hB'"}], "mark": {"type": "rect", "fill": "#5f5f5f", "stroke": "#2e2e2e", "strokeWidth": 1}, "encoding": {"y": {"datum": "hA", "type": "nominal", "bandPosition": 0, "axis": null}, "y2": {"datum": "r1", "bandPosition": 0}}},
            {"transform": [{"filter": "datum.row != 'hB'"}], "mark": {"type": "rect", "stroke": "#bdbdbd", "strokeWidth": 1}, "encoding": {"fill": {"condition": [{"test": "datum.row == 'r1'", "value": "#d2dcec"}, {"test": "datum.row == 'tot'", "value": "#c4c4c4"}], "value": "#ffffff"}}},
            {"transform": [{"filter": "datum.row == 'hB'"}], "mark": {"type": "text", "style": "hdrText", "align": "center"}, "encoding": {"y": {"field": "row", "type": "nominal", "bandPosition": 0, "axis": null}, "x": {"datum": 0.5, "type": "quantitative", "scale": {"domain": [0, 1]}, "axis": null}, "text": {"field": "agg"}}},
            {"transform": [{"filter": "datum.row != 'hB'"}], "mark": {"type": "text", "style": "cellText", "align": "right", "dx": -4}, "encoding": {"x": {"datum": 1, "type": "quantitative", "scale": {"domain": [0, 1]}, "axis": null}, "text": {"field": "agg"}}}
          ]},
        {"width": 51, "height": 281, "data": {"name": "table"},
          "encoding": {"y": {"field": "row", "type": "nominal", "scale": {"domain": ["hA","hB","r1","r2","e1","e2","e3","e4","e5","e6","e7","e8","e9","e10","tot"]}, "axis": null}},
          "layer": [
            {"transform": [{"filter": "datum.row == 'hB'"}], "mark": {"type": "rect", "fill": "#5f5f5f", "stroke": "#2e2e2e", "strokeWidth": 1}, "encoding": {"y": {"datum": "hA", "type": "nominal", "bandPosition": 0, "axis": null}, "y2": {"datum": "r1", "bandPosition": 0}}},
            {"transform": [{"filter": "datum.row != 'hB'"}], "mark": {"type": "rect", "stroke": "#bdbdbd", "strokeWidth": 1}, "encoding": {"fill": {"condition": [{"test": "datum.row == 'r1'", "value": "#d2dcec"}, {"test": "datum.row == 'tot'", "value": "#c4c4c4"}], "value": "#ffffff"}}},
            {"transform": [{"filter": "datum.row == 'hB'"}], "mark": {"type": "text", "style": "hdrText", "align": "center"}, "encoding": {"y": {"field": "row", "type": "nominal", "bandPosition": 0, "axis": null}, "x": {"datum": 0.5, "type": "quantitative", "scale": {"domain": [0, 1]}, "axis": null}, "text": {"field": "aggPct"}}},
            {"transform": [{"filter": "datum.row != 'hB'"}], "mark": {"type": "text", "style": "cellText", "align": "right", "dx": -4}, "encoding": {"x": {"datum": 1, "type": "quantitative", "scale": {"domain": [0, 1]}, "axis": null}, "text": {"field": "aggPct"}}}
          ]},
        {"width": 69, "height": 281, "data": {"name": "table"},
          "encoding": {"y": {"field": "row", "type": "nominal", "scale": {"domain": ["hA","hB","r1","r2","e1","e2","e3","e4","e5","e6","e7","e8","e9","e10","tot"]}, "axis": null}},
          "layer": [
            {"transform": [{"filter": "datum.row == 'hB'"}], "mark": {"type": "rect", "fill": "#5f5f5f", "stroke": "#2e2e2e", "strokeWidth": 1}, "encoding": {"y": {"datum": "hA", "type": "nominal", "bandPosition": 0, "axis": null}, "y2": {"datum": "r1", "bandPosition": 0}}},
            {"transform": [{"filter": "datum.row != 'hB'"}], "mark": {"type": "rect", "stroke": "#bdbdbd", "strokeWidth": 1}, "encoding": {"fill": {"condition": [{"test": "datum.row == 'r1'", "value": "#d2dcec"}, {"test": "datum.row == 'tot'", "value": "#c4c4c4"}], "value": "#ffffff"}}},
            {"transform": [{"filter": "datum.row == 'hB'"}], "mark": {"type": "text", "style": "hdrText", "align": "center"}, "encoding": {"y": {"field": "row", "type": "nominal", "bandPosition": 0, "axis": null}, "x": {"datum": 0.5, "type": "quantitative", "scale": {"domain": [0, 1]}, "axis": null}, "text": {"field": "flopAgg"}}},
            {"transform": [{"filter": "datum.row != 'hB'"}], "mark": {"type": "text", "style": "cellText", "align": "right", "dx": -2}, "encoding": {"x": {"datum": 1, "type": "quantitative", "scale": {"domain": [0, 1]}, "axis": null}, "text": {"field": "flopAgg"}}}
          ]},
        {"width": 5, "height": 281, "data": {"values": [{}]}, "mark": {"type": "rect", "fill": "#6a6a6a"}, "encoding": {}}
      ]
    }
  ]
}
